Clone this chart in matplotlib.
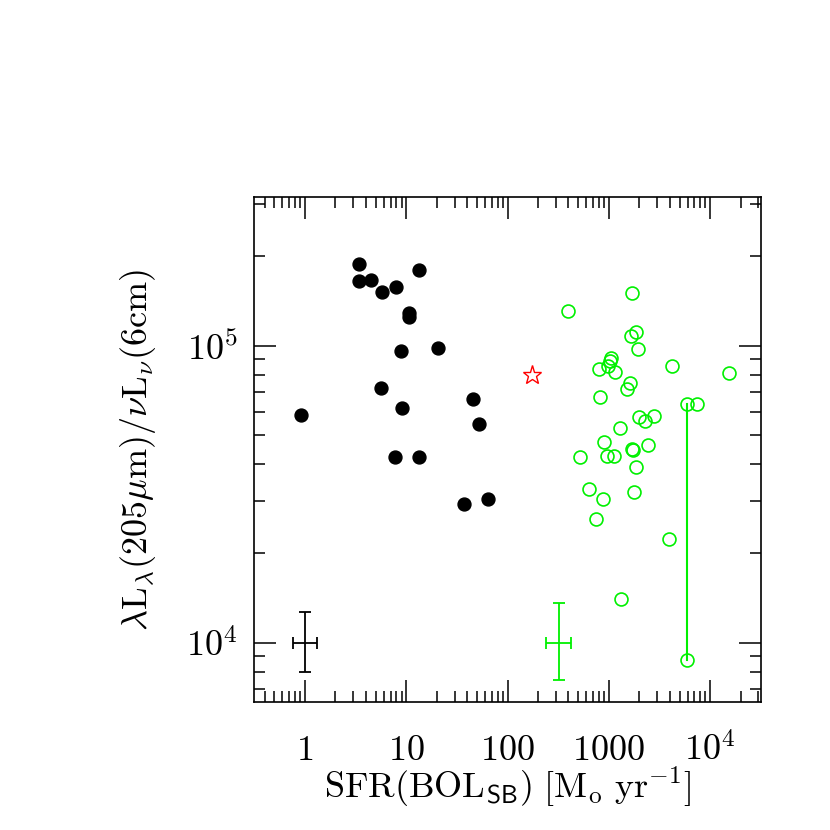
import numpy as np
import matplotlib
matplotlib.use('Agg')
import matplotlib.pyplot as plt
from matplotlib.ticker import LogLocator, FixedLocator, FixedFormatter, NullFormatter

plt.rcParams['mathtext.fontset'] = 'cm'
plt.rcParams['font.family'] = 'serif'

GREEN = '#00f000'

# local galaxies (filled black)
sfr_local = [3.43, 13.4, 3.43, 4.44, 5.74, 8.0, 10.7, 10.7, 8.9, 20.4,
             5.65, 45.5, 9.0, 0.91, 52.1, 7.83, 13.4, 37.4, 63.5]
ratio_local = [1.89e5, 1.80e5, 1.65e5, 1.66e5, 1.52e5, 1.58e5, 1.29e5, 1.25e5,
               9.57e4, 9.8e4, 7.2e4, 6.62e4, 6.16e4, 5.83e4, 5.45e4, 4.24e4,
               4.24e4, 2.93e4, 3.04e4]

# high-z sources (open green)
sfr_hiz = [1679, 392, 1864, 1652, 1924, 1049, 1026, 986, 793, 1157,
           4226, 15340, 1604, 1499, 817, 5860, 7360, 2788, 1983, 2271,
           1288, 895, 2432, 1702, 1715, 518, 964, 1123, 1852, 636,
           869, 1757, 751, 3919, 1307, 5860]
ratio_hiz = [1.51e5, 1.31e5, 1.11e5, 1.077e5, 9.72e4, 9.11e4, 8.87e4, 8.54e4,
             8.37e4, 8.19e4, 8.54e4, 8.11e4, 7.50e4, 7.13e4, 6.75e4, 6.39e4,
             6.36e4, 5.81e4, 5.75e4, 5.57e4, 5.29e4, 4.76e4, 4.65e4, 4.49e4,
             4.47e4, 4.22e4, 4.25e4, 4.27e4, 3.91e4, 3.29e4, 3.04e4, 3.22e4,
             2.62e4, 2.23e4, 1.41e4, 8.78e3]

# one source with two values joined by a line
link_sfr = [5860, 5860]
link_ratio = [6.39e4, 8.78e3]

# red star
star_sfr = [175]
star_ratio = [7.97e4]

# typical error bars
eb_local = dict(x=1.0, y=1e4, xerr=[[0.23], [0.33]], yerr=[[2000], [2700]])
eb_hiz = dict(x=320, y=1e4, xerr=[[79], [103]], yerr=[[2500], [3600]])

fig = plt.figure(figsize=(8.3, 8.3), dpi=100)
ax = fig.add_axes([0.3064, 0.1539, 0.6101, 0.6084])

ax.plot(link_sfr, link_ratio, '-', color=GREEN, lw=1.5, zorder=1)
ax.plot(sfr_local, ratio_local, 'o', color='black', ms=9.3, zorder=3)
ax.plot(sfr_hiz, ratio_hiz, 'o', mfc='none', mec=GREEN, mew=1.2, ms=9.3, zorder=2)
ax.plot(star_sfr, star_ratio, '*', mfc='none', mec='red', mew=1.0, ms=14, zorder=3)

ax.errorbar(eb_local['x'], eb_local['y'], xerr=eb_local['xerr'], yerr=eb_local['yerr'],
            fmt='none', ecolor='black', elinewidth=1.3, capsize=4.5, capthick=1.3)
ax.errorbar(eb_hiz['x'], eb_hiz['y'], xerr=eb_hiz['xerr'], yerr=eb_hiz['yerr'],
            fmt='none', ecolor=GREEN, elinewidth=1.3, capsize=4.5, capthick=1.3)

ax.set_xscale('log')
ax.set_yscale('log')
ax.set_xlim(10**-0.5, 10**4.5)
ax.set_ylim(10**3.8, 10**5.5)

xticks = [1, 10, 100, 1000, 1e4]
xticklabels = ['$1$', '$10$', '$100$', '$1000$', '$10^4$']
yticks = [1e4, 1e5]
yticklabels = ['$10^4$', '$10^5$']

ax.xaxis.set_major_locator(FixedLocator(xticks))
ax.xaxis.set_major_formatter(FixedFormatter(xticklabels))
ax.yaxis.set_major_locator(FixedLocator(yticks))
ax.yaxis.set_major_formatter(FixedFormatter(yticklabels))
ax.xaxis.set_minor_locator(LogLocator(base=10, subs=np.arange(2, 10), numticks=20))
ax.yaxis.set_minor_locator(LogLocator(base=10, subs=np.arange(2, 10), numticks=20))
ax.xaxis.set_minor_formatter(NullFormatter())
ax.yaxis.set_minor_formatter(NullFormatter())

ax.tick_params(which='both', direction='in', top=True, right=True, width=1.1, labelsize=26)
ax.tick_params(which='major', length=16)
ax.tick_params(which='minor', length=8)
ax.tick_params(axis='x', which='major', pad=22)
ax.tick_params(axis='y', which='major', pad=12)
for s in ax.spines.values():
    s.set_linewidth(1.2)

ax.set_xlabel(r'$\mathrm{SFR(BOL_{\mathsf{SB}})\ [M_{o}\ yr^{-1}]}$', fontsize=26, labelpad=-2)
ax.set_ylabel(r'$\lambda\mathrm{L}_\lambda(205\mu\mathrm{m})/\nu\mathrm{L}_\nu(6\mathrm{cm})$',
              fontsize=26, labelpad=20)

fig.savefig('out.png', dpi=100)
